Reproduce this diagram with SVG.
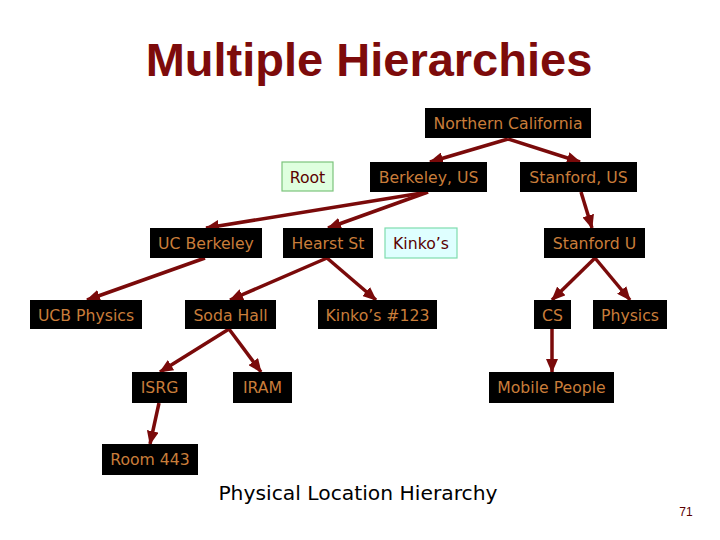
<svg xmlns="http://www.w3.org/2000/svg" width="720" height="540" viewBox="0 0 720 540">
<style>
.n rect{fill:#000}
.n text{font-family:"DejaVu Sans",Verdana,sans-serif;font-size:15.7px;fill:#c97d3a;text-anchor:middle}
.g rect{fill:#dfffdf;stroke:#7cc47c;stroke-width:1.2}
.c rect{fill:#dfffff;stroke:#7fdcae;stroke-width:1.2}
.g text,.c text{fill:#5a0000}
#edges line{stroke:#7a0a0a;stroke-width:3.5;marker-end:url(#ah)}
</style>
<defs>
<marker id="ah" markerUnits="userSpaceOnUse" markerWidth="14" markerHeight="12" viewBox="0 0 14 12" refX="13" refY="6" orient="auto">
<path d="M0,0 L14,6 L0,12 z" fill="#7a0a0a"/>
</marker>
</defs>
<rect width="720" height="540" fill="#fff"/>
<text x="369" y="76" font-family="'Liberation Sans',Arial,sans-serif" font-weight="bold" font-size="47" fill="#7d0b0b" text-anchor="middle">Multiple Hierarchies</text>
<g id="edges">
<line x1="508" y1="139" x2="430" y2="162"/>
<line x1="508" y1="139" x2="580" y2="162"/>
<line x1="428" y1="192" x2="206" y2="228"/>
<line x1="428" y1="192" x2="328" y2="228"/>
<line x1="581" y1="192" x2="592" y2="228"/>
<line x1="205" y1="258" x2="87" y2="300"/>
<line x1="327" y1="258" x2="230" y2="300"/>
<line x1="327" y1="258" x2="376" y2="300"/>
<line x1="595" y1="258" x2="552" y2="300"/>
<line x1="595" y1="258" x2="630" y2="300"/>
<line x1="229" y1="329" x2="160" y2="372"/>
<line x1="229" y1="329" x2="261" y2="372"/>
<line x1="552" y1="329" x2="552" y2="372"/>
<line x1="159" y1="403" x2="150" y2="444"/>
</g>
<g id="northern-california" class="n"><rect x="425" y="108" width="166" height="30"/><text x="508" y="129">Northern California</text></g>
<g id="root" class="n g"><rect x="282" y="162" width="51" height="29"/><text x="307.5" y="182.5">Root</text></g>
<g id="berkeley-us" class="n"><rect x="370" y="162" width="117" height="30"/><text x="428.5" y="183">Berkeley, US</text></g>
<g id="stanford-us" class="n"><rect x="520" y="162" width="117" height="30"/><text x="578.5" y="183">Stanford, US</text></g>
<g id="uc-berkeley" class="n"><rect x="150" y="228" width="112" height="30"/><text x="206" y="249">UC Berkeley</text></g>
<g id="hearst-st" class="n"><rect x="283" y="228" width="90" height="30"/><text x="328" y="249">Hearst St</text></g>
<g id="kinkos" class="n c"><rect x="385" y="228" width="72" height="30"/><text x="421" y="249">Kinko’s</text></g>
<g id="stanford-u" class="n"><rect x="544" y="228" width="101" height="30"/><text x="594.5" y="249">Stanford U</text></g>
<g id="ucb-physics" class="n"><rect x="30" y="300" width="112" height="29"/><text x="86" y="321">UCB Physics</text></g>
<g id="soda-hall" class="n"><rect x="185" y="300" width="91" height="29"/><text x="230.5" y="321">Soda Hall</text></g>
<g id="kinkos-123" class="n"><rect x="318" y="300" width="119" height="29"/><text x="377.5" y="321">Kinko’s #123</text></g>
<g id="cs" class="n"><rect x="534" y="300" width="37" height="29"/><text x="552.5" y="321">CS</text></g>
<g id="physics" class="n"><rect x="593" y="300" width="74" height="29"/><text x="630" y="321">Physics</text></g>
<g id="isrg" class="n"><rect x="132" y="372" width="55" height="31"/><text x="159.5" y="393">ISRG</text></g>
<g id="iram" class="n"><rect x="233" y="372" width="59" height="31"/><text x="262.5" y="393">IRAM</text></g>
<g id="mobile-people" class="n"><rect x="489" y="372" width="125" height="31"/><text x="551.5" y="393">Mobile People</text></g>
<g id="room-443" class="n"><rect x="102" y="444" width="96" height="31"/><text x="150" y="465">Room 443</text></g>
<text x="358" y="500" font-family="'DejaVu Sans',Verdana,sans-serif" font-size="20.3" fill="#000" text-anchor="middle">Physical Location Hierarchy</text>
<text x="686" y="516" font-family="'Liberation Sans',Arial,sans-serif" font-size="12" fill="#5a0000" text-anchor="middle">71</text>
</svg>
